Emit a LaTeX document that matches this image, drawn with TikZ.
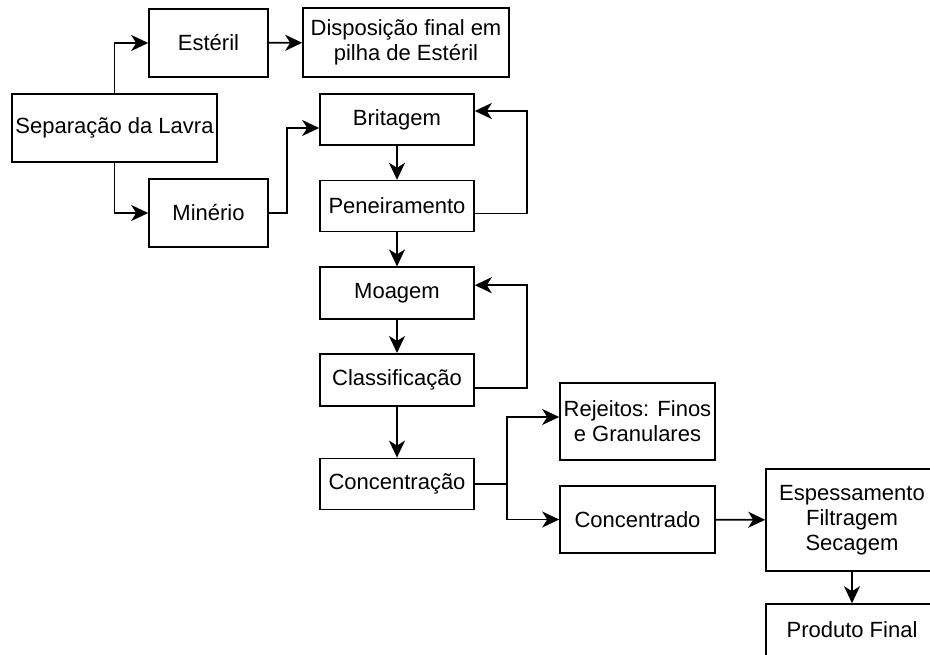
\documentclass[tikz,border=0pt]{standalone}
\usepackage{fontspec}
\setmainfont{Liberation Sans}
\usetikzlibrary{arrows.meta, positioning}

\begin{document}
\begin{tikzpicture}[x=1pt, y=-1pt,
      etapa/.style={rectangle, draw=black, line width=1.6pt, fill=white,
                    minimum width=154pt, minimum height=51pt, inner sep=0pt,
                    align=center, font=\fontsize{22}{25}\selectfont},
      seta/.style={-{Stealth[length=17pt, width=16pt, inset=5pt]}, line width=1.8pt},
      node distance=34pt,
    ]
      \useasboundingbox (0,0) rectangle (930,655);

      \node[etapa, minimum width=205pt, minimum height=68pt] (sep) at (114.5,128) {Separação da Lavra};
      \node[etapa, minimum width=119pt, minimum height=68pt] (est) at (208.5,43) {Estéril};
      \node[etapa, minimum width=206pt, minimum height=69pt] (disp) at (406,42.5) {Disposição final em\\pilha de Estéril};
      \node[etapa, minimum width=119pt, minimum height=68pt] (min) at (208.5,213) {Minério};

      \node[etapa] (brit) at (397,119.5) {Britagem};
      \node[etapa, below=of brit] (pen) {Peneiramento};
      \node[etapa, below=of pen, minimum height=52pt] (moa) {Moagem};
      \node[etapa, below=33pt of moa, minimum height=52pt] (cla) {Classificação};
      \node[etapa, below=51pt of cla] (con) {Concentração};

      \node[etapa, minimum width=155pt, minimum height=77pt] (rej) at (637.5,421.5) {Rejeitos: Finos\\e Granulares};
      \node[etapa, minimum width=155pt, minimum height=67pt] (conc) at (637.5,519.5) {Concentrado};
      \node[etapa, minimum width=172pt, minimum height=102pt] (esp) at (852,520) {Espessamento\\Filtragem\\Secagem};
      \node[etapa, minimum width=172pt, minimum height=52pt] (prod) at (852,630) {Produto Final};

      \draw[seta] (sep.north) |- (est.west);
      \draw[seta] (sep.south) |- (min.west);
      \draw[seta] (est) -- (disp);
      \draw[seta] (min.east) -- ++(18,0) |- ([yshift=-8.5pt]brit.west);
      \draw[seta] (brit) -- (pen);
      \draw[seta] ([yshift=-7.5pt]pen.east) -- ++(52,0) |- ([yshift=8.5pt]brit.east);
      \draw[seta] (pen) -- (moa);
      \draw[seta] (moa) -- (cla);
      \draw[seta] ([yshift=-8pt]cla.east) -- ++(52,0) |- ([yshift=8pt]moa.east);
      \draw[seta] (cla) -- (con);
      \draw[seta] (con.east) -- ++(32,0) |- ([yshift=4.5pt]rej.west);
      \draw[seta] (con.east) -- ++(32,0) |- (conc.west);
      \draw[seta] (conc) -- (esp);
      \draw[seta] (esp) -- (prod);
    \end{tikzpicture}
\end{document}
